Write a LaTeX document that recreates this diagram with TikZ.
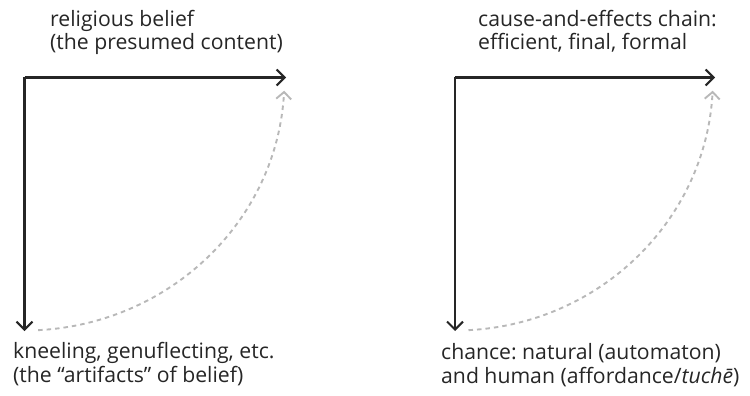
\documentclass[tikz,border=0pt]{standalone}
\usepackage{fontspec}
\setmainfont{Open Sans}
\usetikzlibrary{arrows.meta}
\frenchspacing
\begin{document}
\begin{tikzpicture}[x=1pt,y=-1pt,
  solidarrow/.style={draw=black!85, line width=2.1pt, -{Straight Barb[length=8pt,width=16pt,line width=2.1pt]}},
  dasharrow/.style={draw=black!28, line width=1.9pt, dash pattern=on 4.5pt off 4pt, -{Straight Barb[length=7pt,width=15pt,line width=1.9pt]}},
  lbl/.style={font=\fontsize{21.2}{23.5}\selectfont, align=left, anchor=base west, inner sep=0pt, text=black!85}]
\useasboundingbox (0,0) rectangle (750,396);
% left diagram
\coordinate (A) at (24.5,77.5);
\coordinate (Ax) at (286,77.5);
\coordinate (Ay) at (24.5,331);
\draw[solidarrow] (A) -- (Ax);
\draw[solidarrow] (A) -- (Ay);
\draw[dasharrow] (A) ++(87:260 and 253) arc[start angle=87, end angle=3, x radius=260, y radius=253];
\node[lbl] (t1) at (50,50) {religious belief\\(the presumed content)};
\node[lbl] (b1) at (13,382) {kneeling, genuflecting, etc.\\(the “artifacts” of belief)};
% right diagram
\coordinate (B) at (455,77.5);
\coordinate (Bx) at (715,77.5);
\coordinate (By) at (455,331);
\draw[solidarrow] (B) -- (Bx);
\draw[solidarrow] (B) -- (By);
\draw[dasharrow] (B) ++(87:258 and 253) arc[start angle=87, end angle=3, x radius=258, y radius=253];
\node[lbl] (t2) at (478,50) {cause-and-effects chain:\\efficient, final, formal};
\node[lbl] (b2) at (441,383) {chance: natural (automaton)\\and human (affordance/\emph{tuchē})};
\end{tikzpicture}
\end{document}
